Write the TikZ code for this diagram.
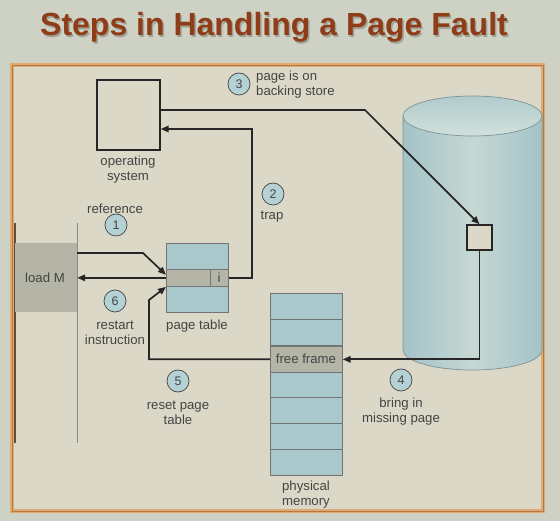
\documentclass[tikz,border=0pt]{standalone}
\usepackage{fontspec}
\setmainfont{Liberation Sans}
\usetikzlibrary{arrows.meta}
\definecolor{bgout}{HTML}{CED2C4}
\definecolor{bgin}{HTML}{DCD8C8}
\definecolor{frameor}{HTML}{E0AA72}
\definecolor{framedk}{HTML}{B07A45}
\definecolor{titlec}{HTML}{8F3C18}
\definecolor{cellblue}{HTML}{A9C8CC}
\definecolor{cellgray}{HTML}{B5B5A7}
\definecolor{circblue}{HTML}{B4D1D5}
\definecolor{txt}{HTML}{444444}
\definecolor{arrc}{HTML}{262626}
\definecolor{cylA}{HTML}{A3C3C8}
\definecolor{cylB}{HTML}{C6D8D3}
\definecolor{cylE}{HTML}{7D9294}
\tikzset{
  lbl/.style={text=txt, font=\fontsize{13.2}{15}\selectfont, align=center, inner sep=0pt},
  num/.style={circle, draw=txt, line width=0.7pt, fill=circblue, minimum size=22pt, inner sep=0pt, text=txt, font=\fontsize{12.5}{14}\selectfont},
  arr/.style={draw=arrc, line width=1.7pt, -{Triangle[length=8pt,width=6.5pt]}},
  cell/.style={rectangle, draw=black!55, line width=0.7pt, inner sep=0pt, anchor=north west},
  boxd/.style={rectangle, draw=arrc, line width=1.4pt, inner sep=0pt},
}
\begin{document}
\begin{tikzpicture}[x=1pt,y=1pt]
\useasboundingbox (0,0) rectangle (560,-521);
\fill[bgout] (0,0) rectangle (560,-521);
% title
\node[anchor=base, font=\fontsize{32}{36}\selectfont\bfseries, text=black, opacity=0.22, inner sep=0pt] (tshadow) at (275.5,-37.5) {Steps in Handling a Page Fault};
\node[anchor=base, font=\fontsize{32}{36}\selectfont\bfseries, text=titlec, inner sep=0pt] (title) at (274,-36) {Steps in Handling a Page Fault};
% frame
\draw[frameor, line width=3.4pt, fill=bgin] (12,-65) rectangle (543,-511);
\draw[framedk, line width=0.8pt] (12,-65) rectangle (543,-511);
% program column
\draw[black!55!frameor, line width=2pt] (14.5,-223) -- (14.5,-443);
\draw[black!45, line width=0.8pt] (77,-223) -- (77,-443);
\node[rectangle, fill=cellgray, minimum width=62pt, minimum height=69pt, inner sep=0pt] (loadm) at (46,-277.5) {};
\node[lbl] (loadmt) at (45,-278) {load M};
% operating system
\node[boxd, minimum width=63pt, minimum height=70pt] (os) at (128.5,-115) {};
\node[lbl] (ost) at (128,-169.5) {operating\\system};
% page table
\node[cell, fill=cellblue, minimum width=62pt, minimum height=69pt] (pt) at (166,-243) {};
\node[cell, fill=cellgray, minimum width=44pt, minimum height=17pt] (ptrow) at (166,-269) {};
\node[cell, fill=cellgray, minimum width=18pt, minimum height=17pt] (icell) at (210,-269) {};
\node[lbl] (it) at (219,-278) {i};
\node[lbl] (ptt) at (197,-326) {page table};
% backing store cylinder
\shade[left color=cylA, right color=cylA, middle color=cylB] (403,-116) -- (403,-350) arc[start angle=180,end angle=360,x radius=69.5,y radius=20] -- (542,-116) -- cycle;
\draw[cylE, line width=0.7pt] (403,-116) -- (403,-350) arc[start angle=180,end angle=360,x radius=69.5,y radius=20] -- (542,-116);
\shade[top color=cylA!60!cylB, bottom color=cylB!80!white] (472.5,-116) ellipse[x radius=69.5, y radius=20];
\draw[cylE, line width=0.7pt] (472.5,-116) ellipse[x radius=69.5, y radius=20];
\node[boxd, fill=bgin, minimum width=25pt, minimum height=25pt] (page) at (479.5,-237.5) {};
% physical memory
\foreach \i/\y in {1/293,2/319,3/346,4/372,5/397,6/423,7/449}{
  \node[cell, fill=cellblue, minimum width=72pt, minimum height=26.3pt] (pm\i) at (270,-\y) {};
}
\node[cell, fill=cellgray, minimum width=72pt, minimum height=26pt] (ff) at (270,-346) {};
\node[lbl] (fft) at (306,-359) {free frame};
\node[lbl] (pmt) at (306,-494.5) {physical\\memory};
% steps
\node[num] (n1) at (116,-225) {1};
\node[lbl] (t1) at (115,-209) {reference};
\node[num] (n2) at (273,-194) {2};
\node[lbl] (t2) at (272,-217) {trap};
\node[num] (n3) at (239,-84) {3};
\node[lbl, align=left, anchor=west] (t3) at (256,-84.5) {page is on\\backing store};
\node[num] (n4) at (401,-380) {4};
\node[lbl] (t4) at (401,-411.5) {bring in\\missing page};
\node[num] (n5) at (178,-381) {5};
\node[lbl] (t5) at (178,-412.5) {reset page\\table};
\node[num] (n6) at (115,-301) {6};
\node[lbl] (t6) at (115,-332.5) {restart\\instruction};
% connectors
\coordinate (b1) at (143,-253);
\coordinate (b2) at (252,-129);
\coordinate (b3) at (365,-110);
\coordinate (b5) at (149,-300);
\draw[arr] (loadm.east |- b1) -- (b1) -- ([yshift=3pt]ptrow.west);
\draw[arr] (icell.east) -| (b2) -- (os.east |- b2);
\draw[arr] (os.east |- b3) -- (b3) -- (page.north);
\draw[arr] (page.south) |- (ff.east);
\draw[arr] (ff.west) -| (b5) -- ([yshift=-9pt]ptrow.west);
\draw[arr] (ptrow.west) -- (loadm.east |- ptrow.west);
\end{tikzpicture}
\end{document}
